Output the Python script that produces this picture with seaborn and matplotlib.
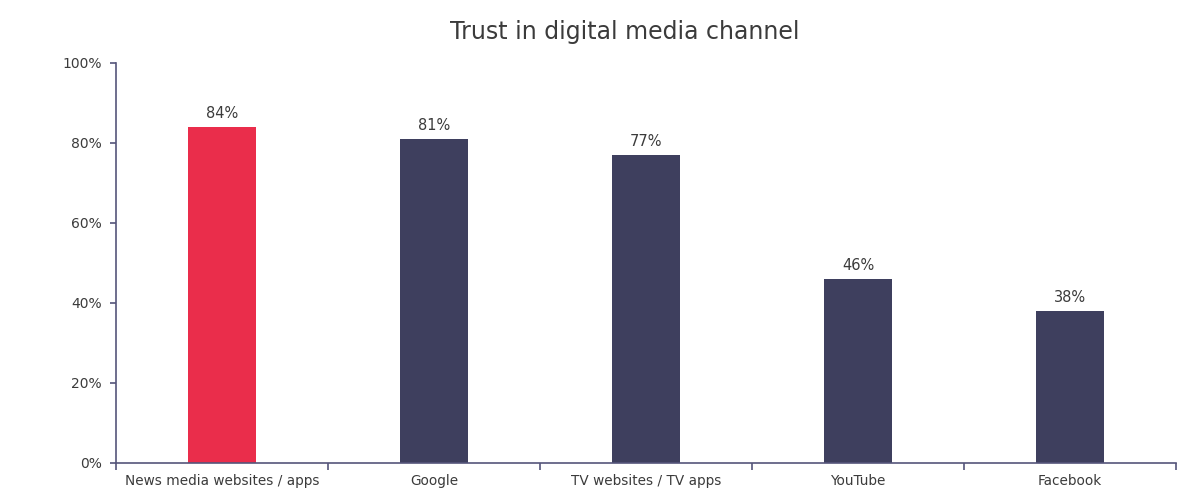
import matplotlib
matplotlib.use("Agg")
import matplotlib.pyplot as plt
import seaborn as sns
import pandas as pd
from matplotlib.ticker import FixedLocator, PercentFormatter

categories = ["News media websites / apps", "Google", "TV websites / TV apps", "YouTube", "Facebook"]
values = [84, 81, 77, 46, 38]
highlight = ["yes", "no", "no", "no", "no"]
y_ticks = [0, 20, 40, 60, 80, 100]

sns.set_theme(style="white")
plt.rcParams['font.family'] = ['DejaVu Sans']

TEXT = "#3b3b3b"
AXC = "#55557a"
RED = "#EA2D4B"
NAVY = "#3E3F5E"

df = pd.DataFrame({"channel": categories, "trust": values, "hl": highlight})

fig = plt.figure(figsize=(11.99, 4.93), dpi=100)
ax = fig.add_axes([116/1199, 30/493, (1176-116)/1199, 400/493])

sns.barplot(data=df, x="channel", y="trust", hue="hl", palette={"yes": RED, "no": NAVY},
            width=0.32, dodge=False, legend=False, ax=ax, saturation=1, linewidth=0)

for i, v in enumerate(values):
    ax.text(i, v + 1.5, f"{v}%", ha="center", va="bottom", fontsize=10.5, color=TEXT)

ax.set_xlim(-0.5, 4.5)
ax.set_ylim(0, 100)
ax.set_yticks(y_ticks)
ax.yaxis.set_major_formatter(PercentFormatter(decimals=0))
ax.set_xlabel("")
ax.set_ylabel("")
ax.xaxis.set_minor_locator(FixedLocator([-0.5, 0.5, 1.5, 2.5, 3.5, 4.5]))
ax.tick_params(axis="x", which="major", length=0, pad=8, labelsize=9.8, labelcolor=TEXT)
ax.tick_params(axis="x", which="minor", length=5, width=1.2, color=AXC, direction="out", bottom=True)
ax.tick_params(axis="y", which="major", length=4, width=1.2, color=AXC, direction="out", left=True, pad=6,
               labelsize=10, labelcolor=TEXT)

for s in ["top", "right"]:
    ax.spines[s].set_visible(False)
for s in ["left", "bottom"]:
    ax.spines[s].set_color(AXC)
    ax.spines[s].set_linewidth(1.2)

fig.text(625/1199, 1 - 32/493, "Trust in digital media channel", ha="center", va="center",
         fontsize=17, color=TEXT)

fig.savefig("out.png", dpi=100, facecolor="white")
